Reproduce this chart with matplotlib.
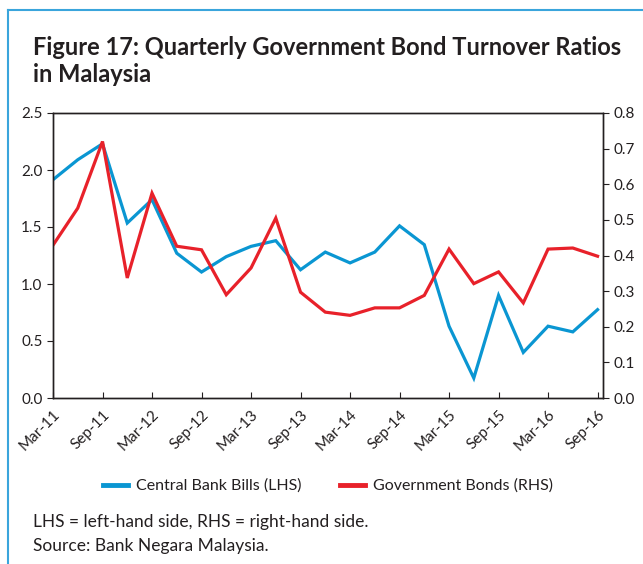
import numpy as np
import matplotlib.pyplot as plt
from matplotlib.lines import Line2D

plt.rcParams['font.family'] = ['Lato', 'DejaVu Sans']

# quarterly data, Mar-11 .. Sep-16
quarters = ['Mar-11', 'Jun-11', 'Sep-11', 'Dec-11', 'Mar-12', 'Jun-12', 'Sep-12', 'Dec-12',
            'Mar-13', 'Jun-13', 'Sep-13', 'Dec-13', 'Mar-14', 'Jun-14', 'Sep-14', 'Dec-14',
            'Mar-15', 'Jun-15', 'Sep-15', 'Dec-15', 'Mar-16', 'Jun-16', 'Sep-16']
bank_bills = [1.915, 2.09, 2.23, 1.535, 1.74, 1.27, 1.105, 1.24, 1.33, 1.38, 1.125, 1.28,
              1.185, 1.28, 1.51, 1.345, 0.63, 0.175, 0.90, 0.40, 0.63, 0.58, 0.775]
gov_bonds = [0.429, 0.533, 0.72, 0.337, 0.575, 0.426, 0.416, 0.29, 0.365, 0.505, 0.297, 0.241,
             0.232, 0.253, 0.253, 0.288, 0.418, 0.321, 0.354, 0.267, 0.418, 0.421, 0.398]

blue = '#0a96d2'
red = '#e8212a'
frame_blue = '#3aa5dc'
txt = '#231f20'

fig = plt.figure(figsize=(6.43, 5.64), dpi=100)

# frame lines along top and left edge
fig.add_artist(Line2D([8 / 643, 8 / 643], [0, 1 - 10 / 564], color=frame_blue, lw=1.5,
                      transform=fig.transFigure))
fig.add_artist(Line2D([8 / 643, 1], [1 - 10 / 564, 1 - 10 / 564], color=frame_blue, lw=1.5,
                      transform=fig.transFigure))

fig.text(33 / 643, 1 - 55 / 564, 'Figure 17: Quarterly Government Bond Turnover Ratios',
         fontsize=17, fontweight='bold', color=txt, va='baseline')
fig.text(33 / 643, 1 - 82 / 564, 'in Malaysia',
         fontsize=17, fontweight='bold', color=txt, va='baseline')

ax = fig.add_axes([53 / 643, 1 - 398 / 564, 550 / 643, 285 / 564])
ax2 = ax.twinx()

x = np.arange(len(quarters))
ax.plot(x, bank_bills, color=blue, lw=2.3, solid_joinstyle='miter')
ax2.plot(x, gov_bonds, color=red, lw=2.3, solid_joinstyle='miter')

ax.set_xlim(0, (len(quarters) - 1) + 0.22)
ax.set_ylim(0, 2.5)
ax2.set_ylim(0, 0.8)
ax.set_yticks(np.arange(0, 2.51, 0.5))
ax.set_yticklabels([f'{v:.1f}' for v in np.arange(0, 2.51, 0.5)])
ax2.set_yticks(np.arange(0, 0.81, 0.1))
ax2.set_yticklabels([f'{v:.1f}' for v in np.arange(0, 0.81, 0.1)])

ax.set_xticks(x[::2])
ax.set_xticklabels(quarters[::2], rotation=45, ha='right', rotation_mode='anchor')

for a in (ax, ax2):
    for s in a.spines.values():
        s.set_color(txt)
        s.set_linewidth(1.0)
ax.tick_params(axis='x', direction='in', length=4, color=txt, labelsize=11, labelcolor=txt, pad=7)
ax.tick_params(axis='y', direction='out', length=4, color=txt, labelsize=11, labelcolor=txt)
ax2.tick_params(axis='y', direction='out', length=4, color=txt, labelsize=11, labelcolor=txt)

handles = [Line2D([], [], color=blue, lw=3.5), Line2D([], [], color=red, lw=3.5)]
fig.legend(handles, ['Central Bank Bills (LHS)', 'Government Bonds (RHS)'],
           loc='center', bbox_to_anchor=(328 / 643, 1 - 486 / 564), ncol=2, frameon=False,
           fontsize=11.5, handlelength=1.6, columnspacing=2.4, handletextpad=0.5,
           labelcolor=txt)

fig.text(33 / 643, 1 - 527 / 564, 'LHS = left-hand side, RHS = right-hand side.',
         fontsize=12.5, color=txt, va='baseline')
fig.text(33 / 643, 1 - 551 / 564, 'Source: Bank Negara Malaysia.',
         fontsize=12.5, color=txt, va='baseline')

fig.savefig('out.png', dpi=100)
